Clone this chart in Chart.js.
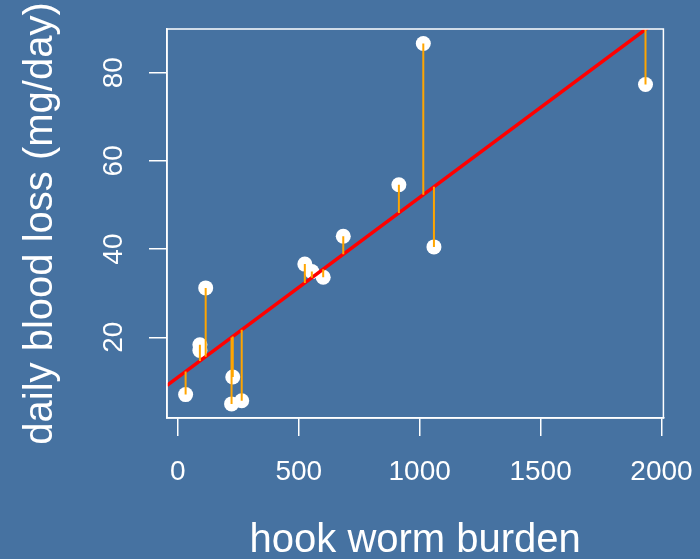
<!DOCTYPE html>
<html>
<head>
<meta charset="utf-8">
<script src="https://cdn.jsdelivr.net/npm/chart.js@4/dist/chart.umd.min.js"></script>
<style>
  html, body { margin: 0; padding: 0; background: #4672a1; }
</style>
</head>
<body>
<canvas id="grafica" width="700" height="559"></canvas>
<script>
const $grafica = document.querySelector("#grafica");

// hook worm burden vs daily blood loss
const carga = [32, 91, 91, 115, 227, 222, 264, 525, 554, 601, 684, 914, 1015, 1059, 1934];
const perdida = [7.0, 18.3, 17.0, 31.2, 11.0, 4.9, 5.6, 36.6, 34.9, 33.6, 42.9, 54.6, 86.6, 40.5, 77.3];

const ticksX = [0, 500, 1000, 1500, 2000];
const ticksY = [20, 40, 60, 80];

// fitted line
const intercepto = 10.92;
const pendiente = 0.04079;

const rangoX = [-45, 2008];
const rangoY = [1.7, 89.9];

const fondo = '#4672a1';
const blanco = '#ffffff';

const ajuste = x => intercepto + pendiente * x;

const puntos = carga.map((x, i) => ({ x: x, y: perdida[i] }));

const residuos = [];
carga.forEach((x, i) => {
    residuos.push({ x: x, y: perdida[i] });
    residuos.push({ x: x, y: ajuste(x) });
    residuos.push({ x: x, y: null });
});

const recta = rangoX.map(x => ({ x: x, y: ajuste(x) }));

const pintarFondo = {
    id: 'fondo',
    beforeDraw(chart) {
        const ctx = chart.ctx;
        ctx.save();
        ctx.fillStyle = fondo;
        ctx.fillRect(0, 0, chart.width, chart.height);
        ctx.restore();
    },
    afterDraw(chart) {
        const { ctx, chartArea: a } = chart;
        ctx.save();
        ctx.strokeStyle = blanco;
        ctx.lineWidth = 1.5;
        ctx.strokeRect(a.left, a.top, a.right - a.left, a.bottom - a.top);
        ctx.restore();
    }
};

Chart.defaults.font.family = "'Liberation Sans', Arial, sans-serif";

new Chart($grafica, {
    type: 'scatter',
    data: {
        datasets: [
            {
                type: 'line',
                data: residuos,
                borderColor: 'orange',
                borderWidth: 2,
                pointRadius: 0,
                spanGaps: false,
                fill: false,
                clip: 0,
            },
            {
                type: 'line',
                data: recta,
                borderColor: 'red',
                borderWidth: 3.5,
                pointRadius: 0,
                fill: false,
                clip: 0,
            },
            {
                data: puntos,
                backgroundColor: blanco,
                borderWidth: 0,
                pointRadius: 7.5,
                pointHoverRadius: 7.5,
            },
        ]
    },
    options: {
        responsive: false,
        animation: false,
        layout: { padding: { top: 29, right: 36.6, left: 0, bottom: 0 } },
        plugins: { legend: { display: false }, tooltip: { enabled: false } },
        scales: {
            x: {
                type: 'linear',
                min: rangoX[0],
                max: rangoX[1],
                afterBuildTicks: s => { s.ticks = ticksX.map(v => ({ value: v })); },
                afterFit: s => { s.height = 141; s.paddingLeft = 0; s.paddingRight = 0; },
                grid: { drawOnChartArea: false, drawTicks: true, tickLength: 18, color: blanco, lineWidth: 1.5 },
                border: { display: true, color: blanco, width: 1.5 },
                ticks: {
                    color: blanco, font: { size: 28 }, padding: 19, maxRotation: 0, autoSkip: false,
                    callback: v => String(v)
                },
                title: {
                    display: true, text: 'hook worm burden', color: blanco,
                    font: { size: 40, lineHeight: '36px' }, padding: 0
                }
            },
            y: {
                type: 'linear',
                min: rangoY[0],
                max: rangoY[1],
                afterBuildTicks: s => { s.ticks = ticksY.map(v => ({ value: v })); },
                afterFit: s => { s.width = 167; s.paddingTop = 0; s.paddingBottom = 0; },
                grid: { drawOnChartArea: false, drawTicks: true, tickLength: 18, color: blanco, lineWidth: 1.5 },
                border: { display: true, color: blanco, width: 1.5 },
                ticks: {
                    color: blanco, font: { size: 28 }, padding: 19,
                    minRotation: 90, maxRotation: 90, crossAlign: 'center', autoSkip: false,
                    callback: v => String(v)
                },
                title: {
                    display: true, text: 'daily blood loss (mg/day)', color: blanco,
                    font: { size: 40, lineHeight: 1.2 }, padding: { top: 17, bottom: 0 }
                }
            }
        }
    },
    plugins: [pintarFondo]
});
</script>
</body>
</html>
